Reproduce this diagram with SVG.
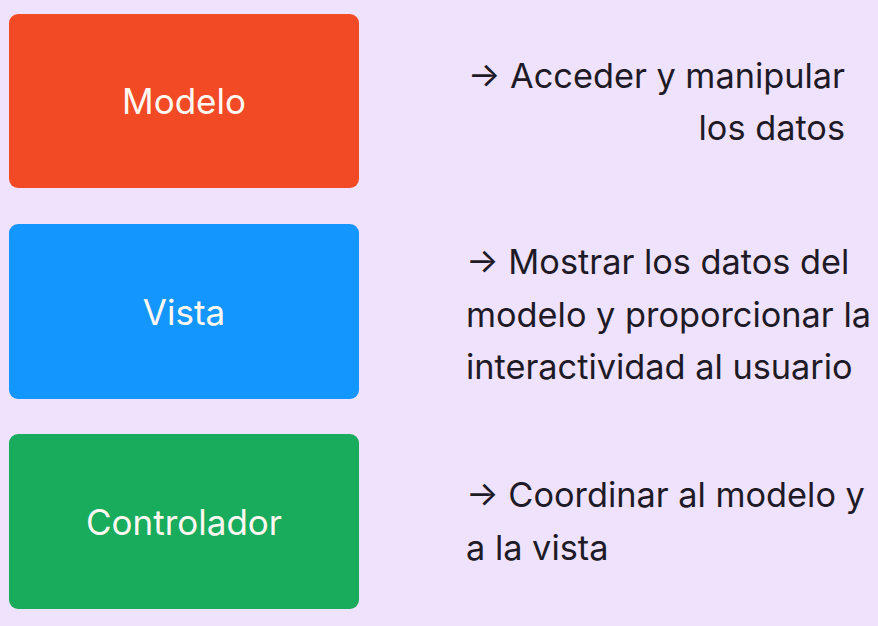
<svg xmlns="http://www.w3.org/2000/svg" width="878" height="626" viewBox="0 0 878 626">
<style>
.box-label{font-family:Inter,"Liberation Sans",sans-serif;font-size:35px;fill:#FFF8F2;text-anchor:middle}
.desc{font-family:Inter,"Liberation Sans",sans-serif;font-size:34.3px;fill:#1E1A26}
</style>
<rect x="0" y="0" width="878" height="626" fill="#EFE2FD"/>
<g id="modelo">
<rect x="9" y="14" width="350" height="174" rx="9" fill="#F24A25"/>
<text class="box-label" x="184" y="114">Modelo</text>
</g>
<g id="vista">
<rect x="9" y="224" width="350" height="175" rx="9" fill="#1496FF"/>
<text class="box-label" x="184" y="325">Vista</text>
</g>
<g id="controlador">
<rect x="9" y="434" width="350" height="175" rx="9" fill="#18AC5C"/>
<text class="box-label" x="184" y="535">Controlador</text>
</g>
<g id="desc-modelo">
<text class="desc" x="845" y="88" text-anchor="end">→ Acceder y manipular</text>
<text class="desc" x="845" y="140" text-anchor="end">los datos</text>
</g>
<g id="desc-vista">
<text class="desc" x="466" y="274">→ Mostrar los datos del</text>
<text class="desc" x="466" y="327">modelo y proporcionar la</text>
<text class="desc" x="466" y="379">interactividad al usuario</text>
</g>
<g id="desc-controlador">
<text class="desc" x="466" y="507">→ Coordinar al modelo y</text>
<text class="desc" x="466" y="560">a la vista</text>
</g>
<g id="connectors"></g>
</svg>
